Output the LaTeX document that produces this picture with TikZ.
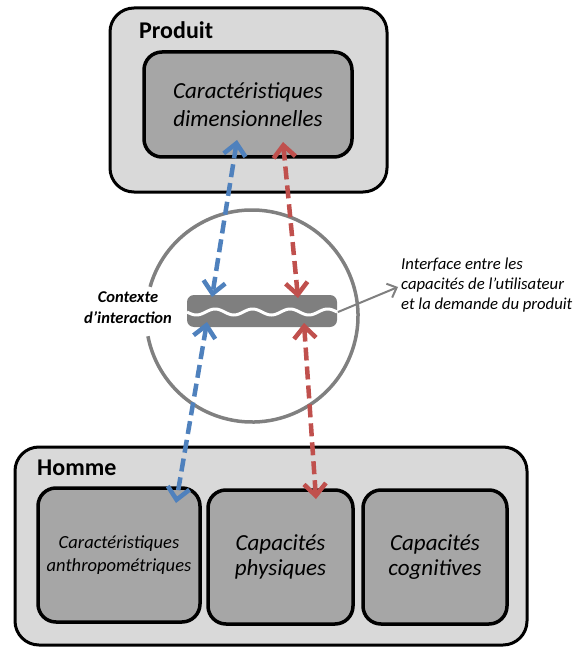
\documentclass[tikz,border=0pt]{standalone}
\usepackage{fontspec}
\setmainfont{Carlito}
\usetikzlibrary{arrows.meta}
\definecolor{outerfill}{HTML}{D9D9D9}
\definecolor{innerfill}{HTML}{A6A6A6}
\definecolor{barfill}{HTML}{7F7F7F}
\definecolor{ablue}{HTML}{4F81BD}
\definecolor{ared}{HTML}{C0504D}
\definecolor{cgray}{HTML}{808080}
\tikzset{
  outerbox/.style={draw=black, line width=3pt, fill=outerfill, rounded corners=24pt, minimum width=#1},
  innerbox/.style={draw=black, line width=3.5pt, fill=innerfill, rounded corners=18pt, align=center, inner sep=0pt},
  titletext/.style={font=\bfseries\fontsize{24}{28}\selectfont, anchor=west, inner sep=0pt},
  dblarrow/.style={line width=4.5pt, dash pattern=on 13pt off 6pt, {Straight Barb[length=12pt,width=22pt]}-{Straight Barb[length=12pt,width=22pt]}},
}
\begin{document}
\begin{tikzpicture}[x=1pt,y=-1pt]
\useasboundingbox (0,0) rectangle (575,647);
% Produit
\node[outerbox=277pt, minimum height=184pt] (produit) at (248.5,100) {};
\node[titletext] (produitlbl) at (139,30) {Produit};
\node[innerbox, minimum width=208pt, minimum height=105pt, font=\itshape\fontsize{23}{28}\selectfont] (dim) at (248,104.5) {Caractéristiques\\dimensionnelles};
% Homme
\node[outerbox=512pt, minimum height=198pt] (homme) at (271,546) {};
\node[titletext] (hommelbl) at (37,468) {Homme};
\node[innerbox, minimum width=162pt, minimum height=134pt, font=\itshape\fontsize{18.5}{23}\selectfont] (anthro) at (119,555) {Caractéristiques\\anthropométriques};
\node[innerbox, minimum width=145pt, minimum height=134pt, font=\itshape\fontsize{23}{25}\selectfont] (phys) at (280.5,557) {Capacités\\physiques};
\node[innerbox, minimum width=144pt, minimum height=134pt, font=\itshape\fontsize{23}{25}\selectfont] (cogn) at (435,557) {Capacités\\cognitives};
% Circle context
\draw[cgray, line width=3.5pt] (252,316) ++(196:106) arc[start angle=196, end angle=529, radius=106];
\node[font=\bfseries\itshape\fontsize{16.5}{21}\selectfont, align=center, inner sep=0pt] (contexte) at (128,308) {Contexte\\d’interaction};
% Interface bar
\node[fill=barfill, rounded corners=7pt, minimum width=150pt, minimum height=32pt, inner sep=0pt] (bar) at (262,311) {};
\draw[white, line width=3pt] plot[domain=0:150, samples=120, smooth] ({187+\x}, {312 + 3*sin(\x*9.6)});
\node[font=\itshape\fontsize{16.7}{20}\selectfont, align=left, anchor=west, inner sep=0pt] (interface) at (401,285) {Interface entre les\\capacités de l’utilisateur\\et la demande du produit};
\coordinate (barR) at (338,312);
\coordinate (ifaceL) at (398,287);
\draw[cgray, line width=2pt, -{Straight Barb[length=8pt,width=15pt]}] (barR) -- (ifaceL);
% Arrow end points
\coordinate (bTop) at (237,140);
\coordinate (bBarTop) at (212,297);
\coordinate (bBarBot) at (207,322);
\coordinate (bBot) at (176,503);
\coordinate (rTop) at (283,142);
\coordinate (rBarTop) at (298,298);
\coordinate (rBarBot) at (304,323);
\coordinate (rBot) at (316,499);
\draw[dblarrow, ablue] (bTop) -- (bBarTop);
\draw[dblarrow, ablue] (bBarBot) -- (bBot);
\draw[dblarrow, ared] (rTop) -- (rBarTop);
\draw[dblarrow, ared] (rBarBot) -- (rBot);
\end{tikzpicture}
\end{document}
